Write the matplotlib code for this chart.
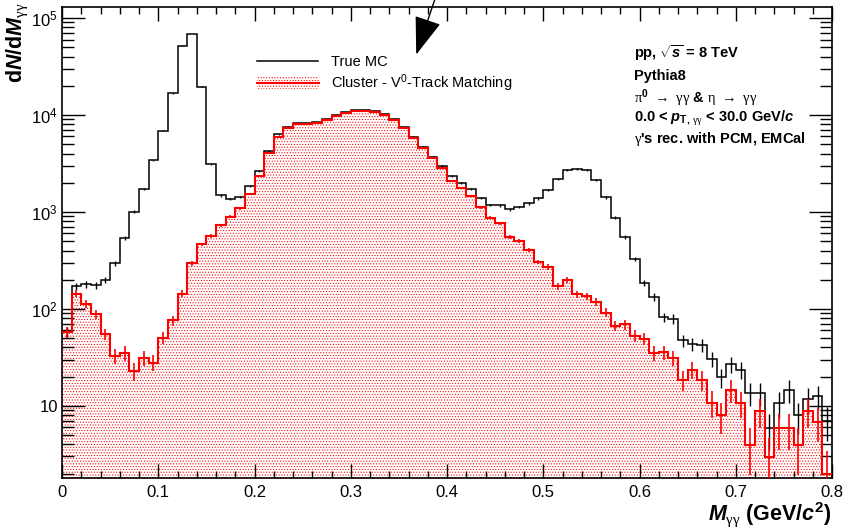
import numpy as np
import matplotlib
matplotlib.use("Agg")
import matplotlib.pyplot as plt
from matplotlib.patches import Rectangle
from matplotlib.ticker import FixedLocator, FixedFormatter, LogLocator, MultipleLocator, NullFormatter

plt.rcParams["font.family"] = ["Liberation Sans", "DejaVu Sans"]
plt.rcParams["mathtext.fontset"] = "custom"
plt.rcParams["mathtext.rm"] = "Liberation Sans:bold"
plt.rcParams["mathtext.it"] = "Liberation Sans:italic:bold"
plt.rcParams["mathtext.bf"] = "Liberation Sans:bold"
plt.rcParams["mathtext.sf"] = "Liberation Serif"
plt.rcParams["hatch.linewidth"] = 0.45

# invariant mass binning, 10 MeV/c^2 bins
M_MIN, M_MAX, N_BINS = 0.0, 0.8, 80

TRUE_MC = [
    58, 171, 179, 175, 197, 294, 540, 1010, 1730, 3400,
    6890, 16700, 52000, 68700, 19600, 3100, 1480, 1355, 1433, 1862,
    2640, 4250, 6320, 7570, 8210, 8250, 8400, 9020, 9920, 10740,
    11170, 11350, 11000, 10240, 9170, 7460, 5970, 4710, 3710, 2970,
    2340, 1970, 1710, 1400, 1175, 1170, 1060, 1130, 1222, 1377,
    1680, 2200, 2700, 2770, 2700, 2130, 1410, 869, 553, 328,
    185, 133, 82.6, 79.4, 47.4, 43.8, 42.1, 30.6, 19.8, 26.8,
    23.6, 13.6, 13.6, 5.9, 10.7, 14.6, 7.96, 11.8, 12.6, 7.0,
]

V0_TRACK_MATCH = [
    58, 144, 113, 88, 54.7, 32.9, 35, 22.9, 31.4, 27.9,
    50, 76, 144, 294, 462, 562, 731, 891, 1087, 1528,
    2360, 4080, 5970, 7400, 8010, 8010, 8210, 8815, 9690, 10490,
    10900, 11090, 10740, 10000, 8940, 7280, 5830, 4560, 3570, 2860,
    2100, 1750, 1456, 1112, 869, 760, 553, 504, 403, 305,
    271, 171, 197, 142, 135, 118, 91.5, 67, 69, 53,
    49, 35.1, 35.6, 31.4, 18.6, 23.6, 18.6, 10.8, 7.96, 14.6,
    10.7, 3.9, 8.8, 2.95, 5.9, 5.9, 3.9, 8.8, 6.8, 2.0,
]

X_TICKS = [0.0, 0.1, 0.2, 0.3, 0.4, 0.5, 0.6, 0.7, 0.8]
X_TICK_LABELS = ["0", "0.1", "0.2", "0.3", "0.4", "0.5", "0.6", "0.7", "0.8"]
Y_TICKS = [10, 1e2, 1e3, 1e4, 1e5]
Y_TICK_LABELS = ["10", r"$\mathdefault{10^{2}}$", r"$\mathdefault{10^{3}}$",
                 r"$\mathdefault{10^{4}}$", r"$\mathdefault{10^{5}}$"]
Y_RANGE = (1.8, 1.3e5)

LEGEND_LABELS = ["True MC", r"Cluster - V$^{\mathdefault{0}}$-Track Matching"]
INFO_LINES = [
    r"pp, $\sqrt{s}$ = 8 TeV",
    "Pythia8",
    r"$\mathsf{\pi}^{0}$ $\mathsf{\rightarrow}$ $\mathsf{\gamma\gamma}$ & "
    r"$\mathsf{\eta}$ $\mathsf{\rightarrow}$ $\mathsf{\gamma\gamma}$",
    r"0.0 < $p_{\mathrm{T},\,\mathsf{\gamma\gamma}}$ < 30.0 GeV/$c$",
    r"$\mathsf{\gamma}$'s rec. with PCM, EMCal",
]
ARROW_TIP = (0.368, 4.2e4)

W, H = 844, 527
RED = "#ff0000"


def fx(px):
    return px / W


def fy(py):
    return 1 - py / H


fig = plt.figure(figsize=(W / 100, H / 100), dpi=100)
ax = fig.add_axes([fx(62), fy(478), 770 / W, 471 / H])

edges = np.linspace(M_MIN, M_MAX, N_BINS + 1)
centers = 0.5 * (edges[:-1] + edges[1:])
mc = np.array(TRUE_MC, dtype=float)
rec = np.array(V0_TRACK_MATCH, dtype=float)

ax.set_yscale("log", nonpositive="clip")

# dotted red fill of the matched histogram
ax.stairs(rec, edges, baseline=1e-2, fill=True, facecolor="none",
          edgecolor=RED, hatch="......", linewidth=0, zorder=1)

ax.stairs(mc, edges, baseline=None, color="black", linewidth=1.1, zorder=3)
ax.errorbar(centers, mc, yerr=np.sqrt(mc), fmt="none", ecolor="black",
            elinewidth=1.0, zorder=3)

ax.stairs(rec, edges, baseline=None, color=RED, linewidth=1.5, zorder=4)
ax.errorbar(centers, rec, yerr=np.sqrt(rec), fmt="none", ecolor=RED,
            elinewidth=1.2, zorder=4)

ax.set_xlim(M_MIN, M_MAX)
ax.set_ylim(*Y_RANGE)

ax.xaxis.set_major_locator(FixedLocator(X_TICKS))
ax.xaxis.set_major_formatter(FixedFormatter(X_TICK_LABELS))
ax.xaxis.set_minor_locator(MultipleLocator(0.02))
ax.yaxis.set_major_locator(FixedLocator(Y_TICKS))
ax.yaxis.set_major_formatter(FixedFormatter(Y_TICK_LABELS))
ax.yaxis.set_minor_locator(LogLocator(base=10, subs=np.arange(2, 10)))
ax.yaxis.set_minor_formatter(NullFormatter())

ax.tick_params(axis="x", which="major", direction="in", length=10, width=1,
               top=True, labelsize=12, pad=5)
ax.tick_params(axis="x", which="minor", direction="in", length=5, width=1, top=True)
ax.tick_params(axis="y", which="major", direction="in", length=16.5, width=1,
               right=True, labelsize=12, pad=3)
ax.tick_params(axis="y", which="minor", direction="in", length=8.5, width=1, right=True)
for s in ax.spines.values():
    s.set_linewidth(1.2)

# axis titles
fig.text(fx(18), fy(2), r"d$N$/d$M_{\mathsf{\gamma\gamma}}$", rotation=90,
         ha="center", va="top", fontsize=15.5, fontweight="bold")
fig.text(fx(832), fy(520), r"$M_{\mathsf{\gamma\gamma}}$ (GeV/$c^{2}$)",
         ha="right", va="baseline", fontsize=15.5, fontweight="bold")

# legend
ax.plot([fx(257), fx(318)], [fy(61), fy(61)], transform=fig.transFigure,
        color="black", lw=1.1, clip_on=False)
fig.patches.append(Rectangle((fx(257), fy(89)), fx(319) - fx(257), fy(77) - fy(89),
                             transform=fig.transFigure, facecolor="none",
                             edgecolor=RED, hatch="......", linewidth=0))
ax.plot([fx(257), fx(319)], [fy(83), fy(83)], transform=fig.transFigure,
        color=RED, lw=1.5, clip_on=False)
fig.text(fx(331), fy(66), LEGEND_LABELS[0], ha="left", va="baseline", fontsize=10.5)
fig.text(fx(331), fy(88.3), LEGEND_LABELS[1], ha="left", va="baseline", fontsize=10.5)

# event / selection info
for line, base in zip(INFO_LINES, [58.3, 80, 102.7, 121.7, 143.3]):
    fig.text(fx(634), fy(base), line, ha="left", va="baseline",
             fontsize=10.5, fontweight="bold")

# marker arrow coming in from above the frame
ax.annotate("", xy=ARROW_TIP, xycoords="data",
            xytext=(fx(436), fy(-4)), textcoords="figure fraction",
            annotation_clip=False,
            arrowprops=dict(arrowstyle="-|>,head_length=2.4,head_width=0.85",
                            mutation_scale=10, color="black", lw=1.0,
                            shrinkA=0, shrinkB=0))

fig.savefig("out.png", dpi=100)
